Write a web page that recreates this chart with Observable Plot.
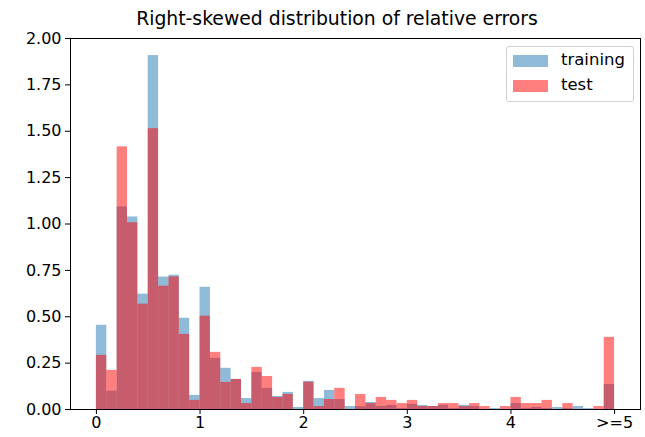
<!DOCTYPE html>
<html>
<head>
<meta charset="utf-8">
<script src="https://cdn.jsdelivr.net/npm/d3@7"></script>
<script src="https://cdn.jsdelivr.net/npm/@observablehq/plot@0.6"></script>
<style>
  html, body { margin: 0; padding: 0; background: #fff; }
  #wrap { position: relative; width: 645px; height: 437px; font-family: "DejaVu Sans", sans-serif; }
  #title { position: absolute; left: 37px; width: 600px; top: 7px; text-align: center; font-size: 18.8px; line-height: 24px; color: #000; }
  #legend { position: absolute; left: 506px; top: 46px; width: 126px; height: 54px; border: 1px solid #d0d0d0; border-radius: 3px; background: rgba(255,255,255,0.8); }
  .item { position: absolute; left: 6px; height: 12px; display: flex; align-items: center; }
  .sw { width: 35px; height: 12px; }
  .lab { position: absolute; left: 54px; font-size: 16.5px; line-height: 16px; color: #000; white-space: nowrap; }
</style>
</head>
<body>
<div id="wrap">
  <div id="chart"></div>
  <div id="title">Right-skewed distribution of relative errors</div>
  <div id="legend"></div>
</div>
<script>
const binWidth = 0.1;
const seriesNames = ["training", "test"];
const seriesColors = ["#1f77b4", "red"];
const trainingValues = [
  0.454, 0.099, 1.092, 1.038, 0.622, 1.908, 0.714, 0.724, 0.492, 0.076,
  0.659, 0.276, 0.222, 0.162, 0.059, 0.200, 0.114, 0.070, 0.092, 0.011,
  0.152, 0.059, 0.103, 0.054, 0.016, 0.016, 0.038, 0.016, 0.022, 0.005,
  0.027, 0.022, 0.016, 0.022, 0.005, 0.022, 0.016, 0.000, 0.005, 0.000,
  0.032, 0.005, 0.011, 0.005, 0.011, 0.005, 0.016, 0.005, 0.000, 0.135
];
const testValues = [
  0.292, 0.211, 1.416, 1.007, 0.568, 1.514, 0.665, 0.715, 0.405, 0.049,
  0.503, 0.308, 0.146, 0.162, 0.032, 0.227, 0.178, 0.065, 0.081, 0.000,
  0.147, 0.016, 0.054, 0.114, 0.000, 0.081, 0.032, 0.065, 0.049, 0.032,
  0.049, 0.016, 0.016, 0.032, 0.032, 0.016, 0.032, 0.016, 0.000, 0.016,
  0.065, 0.032, 0.032, 0.049, 0.000, 0.032, 0.000, 0.000, 0.016, 0.389
];
const xTickValues = [0, 1, 2, 3, 4, 5];
const xTickLabels = ["0", "1", "2", "3", "4", ">=5"];
const yTickValues = [0, 0.25, 0.5, 0.75, 1.0, 1.25, 1.5, 1.75, 2.0];

const toRows = (vals) => vals.map((v, i) => ({x1: i * binWidth, x2: (i + 1) * binWidth, y: v}));
const trainRows = toRows(trainingValues);
const testRows = toRows(testValues);

const chart = Plot.plot({
  width: 645,
  height: 437,
  marginLeft: 70,
  marginRight: 5,
  marginTop: 38,
  marginBottom: 28,
  style: {fontFamily: "DejaVu Sans, sans-serif", fontSize: "16px", color: "#000", background: "#fff"},
  x: {domain: [-0.25, 5.25]},
  y: {domain: [0, 2.0]},
  marks: [
    Plot.rectY(trainRows, {x1: "x1", x2: "x2", y: "y", fill: seriesColors[0], fillOpacity: 0.5}),
    Plot.rectY(testRows, {x1: "x1", x2: "x2", y: "y", fill: seriesColors[1], fillOpacity: 0.5}),
    Plot.axisX({ticks: xTickValues, tickFormat: (d) => xTickLabels[xTickValues.indexOf(d)], tickSize: 5, tickPadding: 2, label: null, fontSize: 16, strokeOpacity: 1}),
    Plot.axisY({ticks: yTickValues, tickFormat: (d) => d.toFixed(2), tickSize: 5, tickPadding: 4, label: null, fontSize: 16, strokeOpacity: 1}),
    Plot.frame({stroke: "#000", strokeWidth: 1})
  ]
});
document.getElementById("chart").appendChild(chart);

const legend = document.getElementById("legend");
seriesNames.forEach((name, i) => {
  const item = document.createElement("div");
  item.className = "item";
  item.style.top = (8 + i * 25) + "px";
  const sw = document.createElement("div");
  sw.className = "sw";
  sw.style.background = seriesColors[i];
  sw.style.opacity = 0.5;
  item.appendChild(sw);
  legend.appendChild(item);
  const lab = document.createElement("div");
  lab.className = "lab";
  lab.style.top = (5 + i * 25) + "px";
  lab.textContent = name;
  legend.appendChild(lab);
});
</script>
</body>
</html>
